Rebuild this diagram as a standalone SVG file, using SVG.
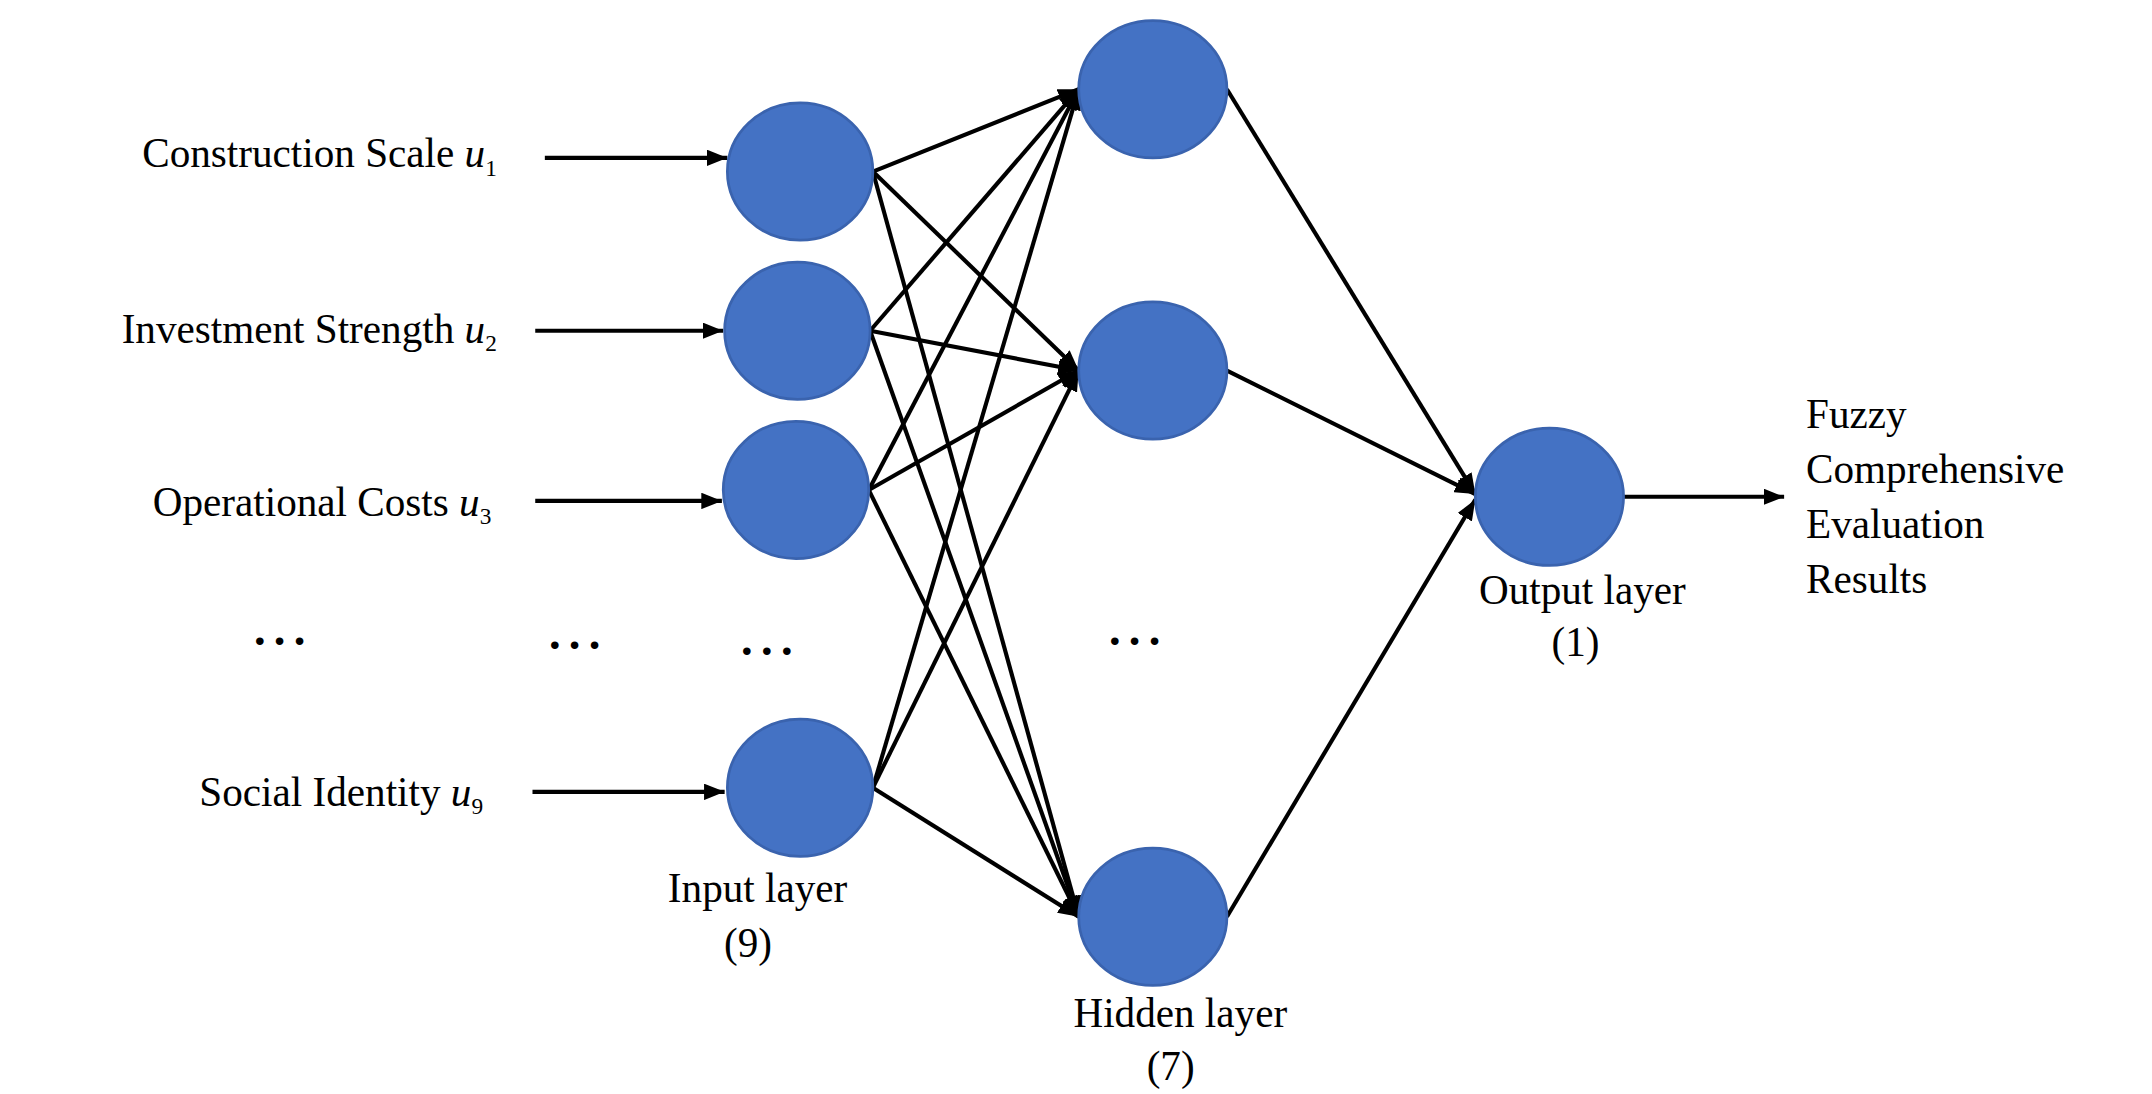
<svg xmlns="http://www.w3.org/2000/svg" width="2152" height="1094" viewBox="0 0 2152 1094">
<style>
.n{fill:#4472C4;stroke:#3A63AE;stroke-width:2}
.e{stroke:#000;stroke-width:3;fill:none;marker-end:url(#ah)}
.t{font-family:"Liberation Serif","DejaVu Serif",serif;font-size:30px;fill:#000}
.d{font-family:"Liberation Serif",serif;font-size:34px;font-weight:bold;fill:#000;letter-spacing:6px}
</style>
<defs><marker id="ah" markerWidth="5" markerHeight="4" refX="5" refY="2" orient="auto" markerUnits="strokeWidth"><path d="M0,0 L5,2 L0,4 Z" fill="#000"/></marker></defs>
<rect width="2152" height="1094" fill="#fff"/>
<g transform="scale(1.3724)">
<g id="connectors">
<line class="e" x1="397" y1="115" x2="530" y2="115"/>
<line class="e" x1="390" y1="241" x2="527" y2="241"/>
<line class="e" x1="390" y1="365" x2="526" y2="365"/>
<line class="e" x1="388" y1="577" x2="528" y2="577"/>
<line class="e" x1="636" y1="125" x2="786" y2="65"/>
<line class="e" x1="636" y1="125" x2="786" y2="270"/>
<line class="e" x1="636" y1="125" x2="786" y2="668"/>
<line class="e" x1="634" y1="241" x2="786" y2="65"/>
<line class="e" x1="634" y1="241" x2="786" y2="270"/>
<line class="e" x1="634" y1="241" x2="786" y2="668"/>
<line class="e" x1="633" y1="357" x2="786" y2="65"/>
<line class="e" x1="633" y1="357" x2="786" y2="270"/>
<line class="e" x1="633" y1="357" x2="786" y2="668"/>
<line class="e" x1="636" y1="574" x2="786" y2="65"/>
<line class="e" x1="636" y1="574" x2="786" y2="270"/>
<line class="e" x1="636" y1="574" x2="786" y2="668"/>
<line class="e" x1="894" y1="65" x2="1075" y2="360"/>
<line class="e" x1="894" y1="270" x2="1075" y2="360"/>
<line class="e" x1="894" y1="668" x2="1075" y2="364"/>
<line class="e" x1="1183" y1="362" x2="1300" y2="362"/>
</g>
<g id="input1"><ellipse class="n" cx="583" cy="125" rx="53" ry="50"/></g>
<g id="input2"><ellipse class="n" cx="581" cy="241" rx="53" ry="50"/></g>
<g id="input3"><ellipse class="n" cx="580" cy="357" rx="53" ry="50"/></g>
<g id="input9"><ellipse class="n" cx="583" cy="574" rx="53" ry="50"/></g>
<g id="hidden1"><ellipse class="n" cx="840" cy="65" rx="54" ry="50"/></g>
<g id="hidden2"><ellipse class="n" cx="840" cy="270" rx="54" ry="50"/></g>
<g id="hidden7"><ellipse class="n" cx="840" cy="668" rx="54" ry="50"/></g>
<g id="output"><ellipse class="n" cx="1129" cy="362" rx="54" ry="50"/></g>
<g id="labels">
<text class="t" x="362" y="122" text-anchor="end">Construction Scale <tspan font-style="italic">u</tspan><tspan font-size="17" dy="6">1</tspan></text>
<text class="t" x="362" y="250" text-anchor="end">Investment Strength <tspan font-style="italic">u</tspan><tspan font-size="17" dy="6">2</tspan></text>
<text class="t" x="358" y="376" text-anchor="end">Operational Costs <tspan font-style="italic">u</tspan><tspan font-size="17" dy="6">3</tspan></text>
<text class="t" x="352" y="587" text-anchor="end">Social Identity <tspan font-style="italic">u</tspan><tspan font-size="17" dy="6">9</tspan></text>
<text class="d" x="185" y="470">...</text>
<text class="d" x="400" y="473">...</text>
<text class="d" x="540" y="477">...</text>
<text class="d" x="808" y="470">...</text>
<text class="t" x="552" y="657" text-anchor="middle">Input layer</text>
<text class="t" x="545" y="697" text-anchor="middle">(9)</text>
<text class="t" x="860" y="748" text-anchor="middle">Hidden layer</text>
<text class="t" x="853" y="787" text-anchor="middle">(7)</text>
<text class="t" x="1153" y="440" text-anchor="middle">Output layer</text>
<text class="t" x="1148" y="478" text-anchor="middle">(1)</text>
<text class="t" x="1316" y="312">Fuzzy</text>
<text class="t" x="1316" y="352">Comprehensive</text>
<text class="t" x="1316" y="392">Evaluation</text>
<text class="t" x="1316" y="432">Results</text>
</g>
</g>
</svg>
